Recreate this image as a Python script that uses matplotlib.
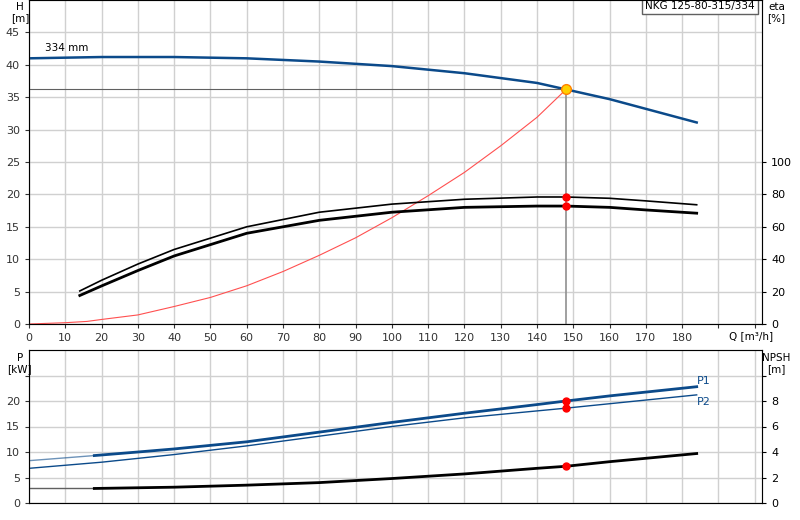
import matplotlib
matplotlib.use("Agg")
import matplotlib.pyplot as plt
import numpy as np

# Data
q_h = [0, 20, 40, 60, 80, 100, 120, 140, 148, 160, 170, 184]
h = [41.0, 41.2, 41.2, 41.0, 40.5, 39.8, 38.7, 37.2, 36.2, 34.7, 33.2, 31.1]
q_eta = [14, 20, 30, 40, 60, 80, 100, 120, 140, 148, 160, 170, 184]
eta_pump = [20.4, 27, 37, 46, 60, 69, 74, 77, 78.4, 78.4, 77.6, 76, 73.6]
eta_tot = [17.6, 23.5, 33, 42, 56, 64, 69, 72, 72.8, 72.8, 72, 70.4, 68.4]
q_sys = [0, 10, 16, 20, 30, 40, 50, 60, 70, 80, 90, 100, 110, 120, 130, 140, 148]
h_sys = [0, 0.2, 0.4, 0.7, 1.4, 2.7, 4.1, 5.9, 8.1, 10.6, 13.3, 16.4, 19.8, 23.4, 27.5, 31.9, 36.2]
q_p = [18, 30, 40, 60, 80, 100, 120, 140, 148, 160, 184]
p1 = [9.3, 10.0, 10.6, 12.0, 13.9, 15.8, 17.6, 19.3, 20.0, 21.0, 22.8]
q_p2 = [0, 20, 40, 60, 80, 100, 120, 148, 184]
p2 = [6.8, 8.0, 9.5, 11.2, 13.1, 15.0, 16.7, 18.6, 21.2]
q_n = [18, 40, 60, 80, 100, 120, 140, 148, 160, 184]
npsh = [1.14, 1.24, 1.4, 1.6, 1.92, 2.28, 2.72, 2.88, 3.24, 3.88]
q_op, h_op, eta_op_pump, eta_op_tot = 148, 36.2, 78.4, 72.8
p1_op, p2_op, npsh_op = 20.0, 18.6, 2.88
title = "NKG 125-80-315/334"

blue = "#0b4a8a"
grid = "#d0d0d0"
fig = plt.figure(figsize=(8, 5.2), dpi=100)
ax = fig.add_axes([29/800, 1-324/520, 733/800, 324/520])
axb = fig.add_axes([29/800, 1-503/520, 733/800, 153/520])
for a in (ax, axb):
    a.set_xlim(0, 202)
    a.set_xticks(np.arange(0, 201, 10))
    a.grid(True, color=grid, lw=1)
    a.set_axisbelow(True)
    for s in a.spines.values():
        s.set_color("#808080")
    a.tick_params(labelsize=8, length=3, colors="#333333")
ax.set_ylim(0, 50)
ax.set_yticks(np.arange(0, 46, 5))
ax.set_xticklabels([str(v) for v in range(0, 190, 10)] + ["", ""])
ax.text(199, -1.1, "Q [m³/h]", fontsize=7.5, ha="center", va="top")
ax.text(-2.5, 49.7, "H\n[m]", fontsize=7.5, ha="center", va="top")
ax2 = ax.twinx()
ax2.set_ylim(0, 200)
ax2.set_yticks(np.arange(0, 101, 20))
ax2.tick_params(labelsize=8, length=3)
ax2.text(206, 199, "eta\n[%]", fontsize=7.5, ha="center", va="top")

ax.plot(q_h, h, color=blue, lw=1.8)
ax.text(4.5, 42.2, "334 mm", fontsize=7.5)
ax.plot([0, q_op], [h_op, h_op], color="#606060", lw=0.8)
ax.plot([q_op, q_op], [0, h_op], color="#909090", lw=1.2)
ax.plot(q_sys, h_sys, color="#ff5050", lw=0.8)
ax2.plot(q_eta, eta_pump, color="black", lw=1.2)
ax2.plot(q_eta, eta_tot, color="black", lw=2)
ax2.plot([q_op, q_op], [eta_op_pump, eta_op_tot], "o", color="red", ms=5)
ax.plot(q_op, h_op, "o", color="#ffd000", mec="#ff8000", ms=7)
ax.text(0.99, 0.998, title, transform=ax.transAxes, fontsize=7.5, ha="right", va="top",
        bbox=dict(boxstyle="square,pad=0.3", fc="white", ec="#606060"))

axb.set_ylim(0, 30)
axb.set_yticks(np.arange(0, 26, 5))
axb.set_yticklabels(["0", "5", "10", "15", "20", ""])
axb.set_xticklabels([])
axb.tick_params(axis="x", length=0)
axb.text(-2.5, 29.5, "P\n[kW]", fontsize=7.5, ha="center", va="top")
axb2 = axb.twinx()
axb2.set_ylim(0, 12)
axb2.set_yticks(np.arange(0, 11, 2))
axb2.set_yticklabels(["0", "2", "4", "6", "8", ""])
axb2.tick_params(labelsize=8, length=3)
axb2.text(206, 11.8, "NPSH\n[m]", fontsize=7.5, ha="center", va="top")
axb.plot([0, q_p[0]], [8.3, p1[0]], color=blue, lw=1, alpha=0.6)
axb.plot(q_p, p1, color=blue, lw=2)
axb.plot(q_p2, p2, color=blue, lw=1)
axb.plot([q_op, q_op], [p1_op, p2_op], "o", color="red", ms=5)
axb.text(184, 23.3, "P1", color=blue, fontsize=8)
axb.text(184, 19.3, "P2", color=blue, fontsize=8)
axb2.plot([0, q_n[0]], [npsh[0], npsh[0]], color="#606060", lw=1)
axb2.plot(q_n, npsh, color="black", lw=2)
axb2.plot(q_op, npsh_op, "o", color="red", ms=5)
fig.savefig("out.png", dpi=100)
